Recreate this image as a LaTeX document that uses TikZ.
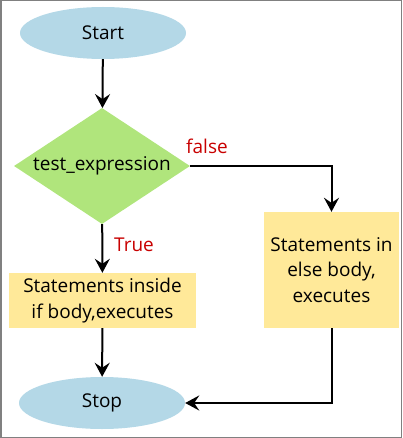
\documentclass[tikz,border=0pt]{standalone}
\usepackage{fontspec}
\setmainfont{Open Sans}
\usetikzlibrary{shapes.geometric,arrows.meta}
\definecolor{terminalblue}{HTML}{B4D8E7}
\definecolor{decisiongreen}{HTML}{B0E57C}
\definecolor{bodyyellow}{HTML}{FFE999}
\definecolor{labelred}{HTML}{C80000}
\newcommand{\flowFont}[0]{\fontsize{19}{25.5}\selectfont}

\begin{document}
\begin{tikzpicture}[x=1pt, y=-1pt]
  \tikzset{every node/.style={font=\flowFont, inner sep=0pt},
    terminal/.style={ellipse, fill=terminalblue, minimum width=166pt, minimum height=52pt},
    decision/.style={diamond, aspect=1.5, fill=decisiongreen, minimum width=176pt, minimum height=116pt},
    bodybox/.style={rectangle, fill=bodyyellow, align=center},
    branch/.style={text=labelred},
    flow/.style={line width=2pt, -{Stealth[length=14pt, width=15pt, inset=5pt]}}}
  \useasboundingbox (0,0) rectangle (402,438);
  \draw[gray, line width=1.5pt] (0.75,0.75) rectangle (401.25,437.25);
  \node[terminal] (start) at (103,33) {Start};
  \node[decision] (test) at (102,166) {test\_expression};
  \node[bodybox, minimum width=187pt, minimum height=55pt] (ifbody) at (102.5,300.5) {Statements inside\\if body,executes};
  \node[bodybox, minimum width=135pt, minimum height=116pt] (elsebody) at (331.5,270) {Statements in\\else body,\\executes};
  \node[terminal] (stop) at (102,403) {Stop};
  \node[branch] (false) at (207,146) {false};
  \node[branch] (true) at (134,245) {True};
  \draw[flow] (start) -- (test);
  \draw[flow] (test.east) -| (elsebody);
  \draw[flow] (test) -- (ifbody);
  \draw[flow] (ifbody) -- (stop);
  \draw[flow] (elsebody) |- (stop);
\end{tikzpicture}
\end{document}
